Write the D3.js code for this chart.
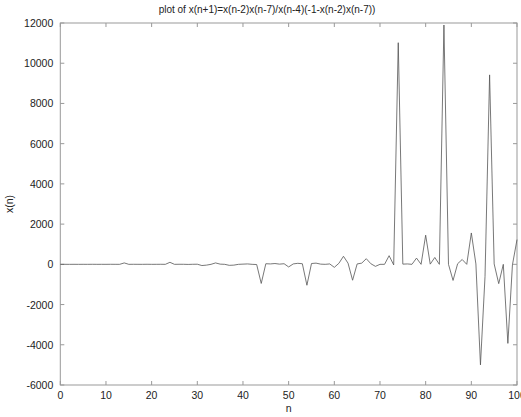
<!DOCTYPE html>
<html>
<head>
<meta charset="utf-8">
<script src="https://d3js.org/d3.v7.min.js"></script>
<style>
  body { margin: 0; background: #fff; }
  svg { display: block; font-family: "Liberation Sans", Arial, sans-serif; }
</style>
</head>
<body>
<svg id="chart"></svg>
<script>
    const title = "plot of x(n+1)=x(n-2)x(n-7)/x(n-4)(-1-x(n-2)x(n-7))";
    const xTicks = [0, 10, 20, 30, 40, 50, 60, 70, 80, 90, 100];
    const yTicks = [-6000, -4000, -2000, 0, 2000, 4000, 6000, 8000, 10000, 12000];

    // x(n) for n = 0..100
    const xValues = [
        0, 1, 0, 1, 0, 1, 0, 2, 0, 1,
        0, 2, 1, 0, 70, 0, 2, 1, 0, 3,
        0, 1, 2, 0, 100, 0, 3, 2, -5, 2,
        5, -60, -40, 0, 70, 10, 0, -50, -40, 0,
        10, 20, 0, -10, -950, 30, 20, 40, 10, 30,
        -130, 20, 50, 30, -1040, 40, 60, 10, 0, 20,
        -150, 50, 400, 60, -790, 20, 60, 280, 30, -100,
        0, 0, 430, -30, 11020, 10, 20, 0, 310, 0,
        1450, 10, 340, 0, 11900, 0, -800, 30, 240, 0,
        1560, 20, -5000, -600, 9420, 20, -960, 0, -3930, -30,
        1230
    ];
    const ns = d3.range(xValues.length);

    const W = 521, H = 417;
    const plotLeft = 60.3, plotRight = 517, plotTop = 23, plotBottom = 385;

    const svg = d3.select("#chart").attr("width", W).attr("height", H);

    const x = d3.scaleLinear().domain([0, 100]).range([plotLeft, plotRight]);
    const y = d3.scaleLinear().domain([-6000, 12000]).range([plotBottom, plotTop]);

    const axisColor = "#999";

    // frame
    svg.append("rect")
        .attr("x", plotLeft).attr("y", plotTop)
        .attr("width", plotRight - plotLeft).attr("height", plotBottom - plotTop)
        .attr("fill", "none").attr("stroke", axisColor).attr("stroke-width", 1);

    const tickLen = 4;
    // x ticks (bottom and top, pointing inward)
    xTicks.forEach(t => {
        svg.append("line").attr("x1", x(t)).attr("x2", x(t))
            .attr("y1", plotBottom).attr("y2", plotBottom - tickLen)
            .attr("stroke", axisColor);
        svg.append("line").attr("x1", x(t)).attr("x2", x(t))
            .attr("y1", plotTop).attr("y2", plotTop + tickLen)
            .attr("stroke", axisColor);
        svg.append("text").attr("x", x(t)).attr("y", plotBottom + 14)
            .attr("text-anchor", "middle").attr("font-size", 10.5).attr("fill", "#222")
            .text(t);
    });

    // y ticks (left and right, pointing inward)
    yTicks.forEach(t => {
        svg.append("line").attr("x1", plotLeft).attr("x2", plotLeft + tickLen)
            .attr("y1", y(t)).attr("y2", y(t))
            .attr("stroke", axisColor);
        svg.append("line").attr("x1", plotRight).attr("x2", plotRight - tickLen)
            .attr("y1", y(t)).attr("y2", y(t))
            .attr("stroke", axisColor);
        svg.append("text").attr("x", plotLeft - 7).attr("y", y(t) + 4)
            .attr("text-anchor", "end").attr("font-size", 10.5).attr("fill", "#222")
            .text(t);
    });

    // data line
    const line = d3.line()
        .x((d, i) => x(ns[i]))
        .y(d => y(d));

    svg.append("path")
        .datum(xValues)
        .attr("fill", "none")
        .attr("stroke", "#555")
        .attr("stroke-width", 0.8)
        .attr("d", line);

    // labels
    svg.append("text").attr("x", 267).attr("y", 13)
        .attr("text-anchor", "middle").attr("font-size", 10).attr("fill", "#222")
        .text(title);

    svg.append("text").attr("x", (plotLeft + plotRight) / 2).attr("y", 412)
        .attr("text-anchor", "middle").attr("font-size", 10.5).attr("fill", "#222")
        .text("n");

    svg.append("text")
        .attr("transform", `translate(13,${(plotTop + plotBottom) / 2}) rotate(-90)`)
        .attr("text-anchor", "middle").attr("font-size", 10.5).attr("fill", "#222")
        .text("x(n)");
</script>
</body>
</html>
